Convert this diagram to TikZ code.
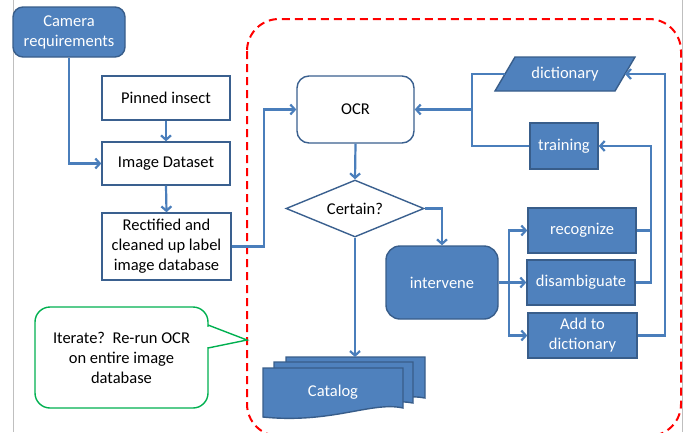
\documentclass[tikz,border=0pt]{standalone}
\usepackage{fontspec}
\setmainfont{Carlito}
\usetikzlibrary{arrows.meta,shapes.geometric}
\definecolor{boxblue}{HTML}{4F81BD}
\definecolor{boxedge}{HTML}{385D8A}
\definecolor{lineblue}{HTML}{4A7EBB}
\definecolor{calloutgreen}{HTML}{00B050}
\begin{document}
\begin{tikzpicture}[x=1pt,y=-1pt,
  font=\fontsize{16.5}{20}\selectfont,
  >={Straight Barb[length=4.5pt,width=10pt]},
  base/.style={inner sep=0pt, align=center, line width=1.4pt},
  whitebox/.style={base, draw=boxedge!90!lineblue, fill=white, text=black},
  bluebox/.style={base, draw=boxedge, fill=boxblue, text=white},
  conn/.style={draw=lineblue, line width=2.2pt},
  region/.style={draw=red, line width=2pt, dash pattern=on 8pt off 5pt, rounded corners=32pt},
  slideedge/.style={draw=black!25, line width=0.8pt}
]
\useasboundingbox (0,0) rectangle (684,432);

% slide edges
\draw[slideedge] (13,0) -- (13,432);
\draw[slideedge] (682,0) -- (682,432);

% automated OCR region
\draw[region] (247,19) rectangle (681,436);

% left column
\node[bluebox, rounded corners=10pt, minimum width=112pt, minimum height=50pt] (cam) at (69,32) {Camera\\requirements};
\node[whitebox, minimum width=128pt, minimum height=44pt] (pin) at (166,98) {Pinned insect};
\node[whitebox, minimum width=128pt, minimum height=43pt] (img) at (166,163.5) {Image Dataset};
\node[whitebox, minimum width=129pt, minimum height=67pt] (rect) at (166.5,246.5) {Rectified and\\cleaned up label\\image database};

% OCR loop
\node[whitebox, rounded corners=12pt, minimum width=117pt, minimum height=67pt] (ocr) at (355.5,109.5) {OCR};
\node[whitebox, shape=diamond, aspect=2.42, minimum width=138pt, minimum height=57pt] (cert) at (355,208.5) {Certain?};
\node[bluebox, rounded corners=14pt, minimum width=112pt, minimum height=73pt] (inter) at (442,282.5) {intervene};
\node[bluebox, minimum width=108pt, minimum height=45pt] (recog) at (582,230.5) {recognize};
\node[bluebox, minimum width=108pt, minimum height=45pt] (disamb) at (581,282.5) {disambiguate};
\node[bluebox, minimum width=109pt, minimum height=45pt] (addd) at (582.5,335.5) {Add to\\dictionary};
\node[bluebox, minimum width=68pt, minimum height=46pt] (train) at (564,146) {training};

% dictionary (parallelogram)
\path[draw=boxedge, fill=boxblue, line width=1.4pt] (515,57) -- (635,57) -- (615,91) -- (495,91) -- cycle;
\node[text=white, inner sep=0pt] (dict) at (565,74) {dictionary};
\coordinate (dictL) at (505,74);
\coordinate (dictR) at (625,74);

% catalog (stacked documents)
\path[draw=boxedge, fill=boxblue, line width=1.4pt] (286,357) -- (425,357) -- (425,398) .. controls (395,392) and (355,412) .. (286,406) -- cycle;
\path[draw=boxedge, fill=boxblue, line width=1.4pt] (274,362) -- (413,362) -- (413,403) .. controls (383,397) and (343,417) .. (274,411) -- cycle;
\path[draw=boxedge, fill=boxblue, line width=1.4pt] (263,368) -- (403,368) -- (403,408) .. controls (372,401) and (332,424) .. (263,417) -- cycle;
\node[text=white, inner sep=0pt] (cat) at (333,392) {Catalog};
\coordinate (catTop) at (355,357);

% callout
\node[base, draw=calloutgreen, fill=white, rounded corners=15pt, minimum width=173pt, minimum height=101pt] (bubble) at (121.5,357.5) {Iterate?~~Re-run OCR\\on entire image\\database};
\fill[white] (207,326.5) rectangle (210,346.5);
\draw[calloutgreen, line width=1.4pt, line join=miter] (208,325) -- (247,340) -- (208,348);

% connectors: left column
\draw[conn,->] (cam.south) |- (img.west);
\draw[conn,->] (pin.south) -- (img.north);
\draw[conn,->] (img.south) -- (rect.north);
\draw[conn,->] (rect.east) -- ++(32,0) |- (ocr.west);

% connectors: OCR loop
\draw[conn,->] (ocr.south) -- (cert.north);
\draw[conn,->] (cert.east) -| (inter.north);
\draw[conn,->] (cert.south) -- (catTop);

\coordinate (split) at (509,282.5);
\draw[conn] (inter.east) -- (split);
\draw[conn,->] (split) |- (recog.west);
\draw[conn,->] (split) -- (disamb.west);
\draw[conn,->] (split) |- (addd.west);

\coordinate (back) at (651,282.5);
\draw[conn] (recog.east) -- (recog.east -| back);
\draw[conn,->] (disamb.east) -- (back) |- (train.east);
\draw[conn,->] (addd.east) -- ++(27,0) |- (dictR);

\coordinate (bus) at (472,109.5);
\draw[conn] (dictL) -| (bus |- train.west) -- (train.west);
\draw[conn,->] (bus) -- (ocr.east);
\end{tikzpicture}
\end{document}
